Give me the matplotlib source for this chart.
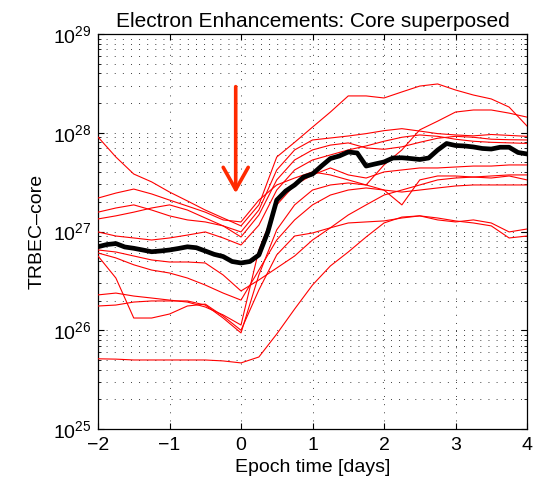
import numpy as np
import matplotlib
matplotlib.use("Agg")
import matplotlib.pyplot as plt
from matplotlib.ticker import LogLocator, LogFormatterMathtext, NullFormatter, FixedLocator

plt.rcParams['font.family'] = ['Liberation Sans', 'DejaVu Sans']
plt.rcParams['mathtext.fontset'] = 'custom'
plt.rcParams['mathtext.rm'] = 'Liberation Sans'

UNIT = 1e26  # values below are in units of 1e26

# epoch times (days) for the individual events (red)
t_red = [-2.0, -1.75, -1.5, -1.25, -1.0, -0.75, -0.5, -0.25, 0.0, 0.25, 0.5, 0.75,
         1.0, 1.25, 1.5, 1.75, 2.0, 2.25, 2.5, 2.75, 3.0, 3.25, 3.5, 3.75, 4.0]

r1 = [90.6, 56.8, 38.2, 31.8, 25.1, 20.4, 16.5, 13.7, 11.4, 18.6, 56.8, 80, 114, 162, 236, 236, 225, 259, 297, 312, 271, 241, 220, 182, 117]
r2 = [21.8, 24.5, 26.9, 24.0, 20.8, 18.1, 15.7, 13.1, 12.5, 20.8, 29.6, 34.8, 40.1, 37.4, 33.3, 29.6, 47.2, 67, 107, 131, 162, 170, 170, 158, 144]
r3 = [15.7, 17.3, 18.6, 16.5, 14.4, 13.1, 12.5, 11.4, 9.9, 16.5, 42, 67, 84.5, 88.5, 92.7, 98, 105, 110, 104, 98, 95, 93, 96, 94, 92]
r4 = [13.4, 14.4, 15.7, 17.3, 18.6, 16.5, 13.7, 11.4, 8.8, 14.7, 33.3, 53, 67, 75, 78.9, 70.2, 68, 72, 80, 88, 92, 90, 86, 85, 84.5]
r5 = [9.9, 9.0, 8.6, 8.2, 8.6, 9.2, 9.9, 8.6, 7.3, 11.6, 26.3, 42, 53, 59.6, 67, 73.5, 82, 90, 95, 92, 86, 82, 80, 79, 78]
r6 = [6.5, 6.2, 5.65, 5.15, 4.91, 4.91, 4.8, 3.63, 2.5, 3.23, 4.27, 5.65, 8.2, 10.9, 14.7, 18.6, 23.4, 26.3, 29.6, 33.3, 34.8, 35.6, 36.5, 37.4, 37.4]
r7 = [6.06, 5.4, 4.6, 4.07, 3.8, 3.38, 2.87, 2.38, 2.02, 4.07, 8.2, 13.1, 18.6, 23.4, 26.3, 27.6, 26.3, 25.1, 26.3, 27.6, 28.9, 29.6, 29.6, 29.6, 29.6]
r8 = [2.28, 2.38, 2.22, 2.12, 2.02, 1.93, 1.72, 1.43, 1.13, 6.5, 18.6, 29.6, 37.4, 44, 37.4, 34.8, 40.1, 42, 44, 44, 45, 46, 46, 47.2, 47.2]
r9 = [1.76, 1.80, 1.93, 1.98, 1.98, 1.98, 1.80, 1.33, 0.94, 3.63, 10.4, 18.6, 26.3, 29.6, 31, 29.6, 26.3, 18.6, 33.3, 36.5, 36.5, 35.6, 34.8, 36.5, 33.3]
r10 = [5.65, 3.38, 1.33, 1.33, 1.46, 1.76, 1.84, 1.39, 1.0, 2.56, 5.8, 9.0, 9.66, 10.9, 12.2, 12.5, 12.8, 13.7, 14.4, 13.7, 12.8, 12.2, 11.4, 8.6, 9.0]
r11 = [0.514, 0.51, 0.50, 0.50, 0.50, 0.50, 0.50, 0.489, 0.467, 0.536, 0.916, 1.64, 2.87, 4.48, 6.2, 8.8, 12.2, 14.0, 14.4, 13.1, 12.5, 13.1, 12.2, 9.9, 10.6]
red_series = [r1, r2, r3, r4, r5, r6, r7, r8, r9, r10, r11]

# superposed (mean) curve, black
t_black = np.linspace(-2.0, 4.0, 49)
black = [7.01, 7.38, 7.55, 6.97, 6.76, 6.50, 6.24, 6.35, 6.50, 6.73, 7.00, 6.85, 6.35,
         5.87, 5.58, 4.97, 4.80, 4.97, 5.78, 9.89, 20.8, 25.7, 29.6, 35.6, 38.2, 46.0,
         54.8, 58.2, 63.8, 62.4, 46.0, 48.3, 50.6, 55.5, 55.8, 54.8, 53.6, 55.5, 66.8,
         77.8, 74.3, 73.5, 71.8, 69.3, 68.4, 71.3, 71.3, 63.1, 61.0]

x_ticks = [-2, -1, 0, 1, 2, 3, 4]
x_labels = ['\u22122', '\u22121', '0', '1', '2', '3', '4']

# annotation arrow (epoch marker)
ARROW_X = -0.074
ARROW_TAIL = 2.93e28
ARROW_TIP = 2.44e27

FS = 14

fig = plt.figure(figsize=(5.43, 4.78), dpi=100)
ax = fig.add_axes([98 / 543, 49 / 478, (527 - 98) / 543, (429 - 34) / 478])

for s in red_series:
    ax.plot(t_red, np.array(s) * UNIT, color='#ff0000', lw=0.8, zorder=3)
ax.plot(t_black, np.array(black) * UNIT, color='black', lw=3.4, zorder=4)

ax.set_yscale('log')
ax.set_xlim(-2, 4)
ax.set_ylim(1e25, 1e29)
ax.xaxis.set_major_locator(FixedLocator(x_ticks))
ax.set_xticklabels(x_labels)
ax.yaxis.set_major_locator(LogLocator(base=10, numticks=10))
ax.yaxis.set_minor_locator(LogLocator(base=10, subs=np.arange(2, 10), numticks=20))
ax.yaxis.set_major_formatter(LogFormatterMathtext())
ax.yaxis.set_minor_formatter(NullFormatter())

grid_kw = dict(color='#222222', lw=0.65, linestyle=(0, (1, 8)))
ax.grid(True, which='major', **grid_kw)
ax.grid(True, which='minor', axis='y', **grid_kw)

ax.tick_params(which='both', direction='in', top=True, right=True, labelsize=FS)
ax.tick_params(axis='x', which='major', pad=6)
ax.tick_params(axis='y', which='major', pad=5)
ax.tick_params(which='major', length=4, width=0.8)
ax.tick_params(which='minor', length=2.5, width=0.6)
for sp in ax.spines.values():
    sp.set_linewidth(0.9)

ax.set_xlabel('Epoch time [days]', fontsize=FS, labelpad=3)
ax.set_ylabel('TRBEC\u2013core', fontsize=FS, labelpad=5)
ax.set_title('Electron Enhancements: Core superposed', fontsize=15, pad=5)

ax.annotate('', xy=(ARROW_X, ARROW_TIP), xytext=(ARROW_X, ARROW_TAIL),
            arrowprops=dict(arrowstyle='->, head_length=0.8, head_width=0.45',
                            color='#ff2a00', lw=2.6, mutation_scale=20,
                            shrinkA=0, shrinkB=0),
            zorder=5)

fig.savefig('out.png', dpi=100)
